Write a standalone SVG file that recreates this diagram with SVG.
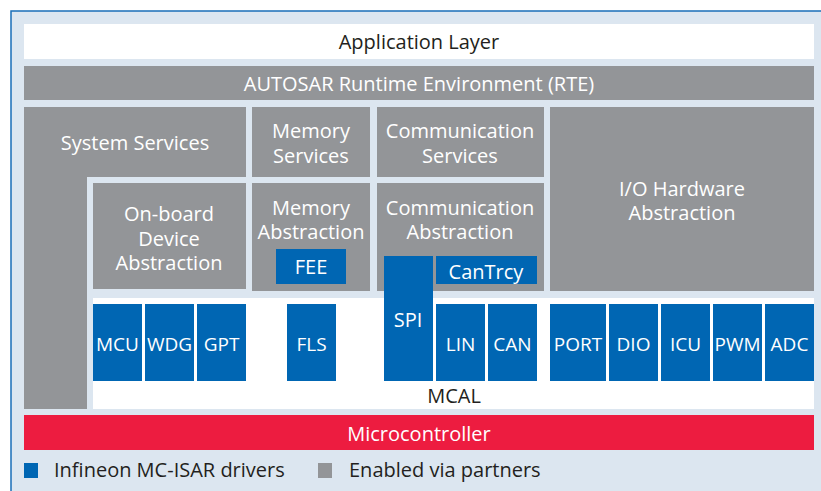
<svg xmlns="http://www.w3.org/2000/svg" width="821" height="491" viewBox="0 0 821 491">
<style>
.g{fill:#939598}
.b{fill:#0066b3}
.t{font-family:"Open Sans","Noto Sans",sans-serif;font-size:20px;text-anchor:middle}
.w{fill:#ffffff}
.d{fill:#231f20}
.s{font-size:19px}
.l{font-family:"Open Sans","Noto Sans",sans-serif;font-size:20px;fill:#231f20}
</style>
<rect x="11" y="11" width="830" height="500" fill="#dce6f0" stroke="#1a6fb8" stroke-width="1.5"/>
<g id="app"><rect x="24" y="24" width="790" height="35" fill="#ffffff"/><text class="t d" x="419" y="49">Application Layer</text></g>
<g id="rte"><rect class="g" x="24" y="66" width="790" height="34"/><text class="t w" x="419" y="91">AUTOSAR Runtime Environment (RTE)</text></g>
<g id="sys"><path class="g" d="M24,107H246V177H87V409H24Z"/><text class="t w" x="135" y="150">System Services</text></g>
<g id="memsrv"><rect class="g" x="252" y="107" width="118" height="70"/><text class="t w" x="311" y="138">Memory</text><text class="t w" x="311" y="163">Services</text></g>
<g id="comsrv"><rect class="g" x="377" y="107" width="167" height="70"/><text class="t w" x="460" y="138">Communication</text><text class="t w" x="460" y="163">Services</text></g>
<g id="io"><rect class="g" x="550" y="107" width="264" height="184"/><text class="t w" x="682" y="196">I/O Hardware</text><text class="t w" x="682" y="220">Abstraction</text></g>
<g id="onboard"><rect class="g" x="93" y="183" width="153" height="106"/><text class="t w" x="169" y="221">On-board</text><text class="t w" x="169" y="246">Device</text><text class="t w" x="169" y="270">Abstraction</text></g>
<g id="memabs"><rect class="g" x="252" y="183" width="118" height="108"/><text class="t w" x="311" y="215">Memory</text><text class="t w" x="311" y="239">Abstraction</text></g>
<g id="comabs"><rect class="g" x="377" y="183" width="167" height="108"/><text class="t w" x="460" y="215">Communication</text><text class="t w" x="460" y="239">Abstraction</text></g>
<g id="mcal"><rect x="93" y="298" width="721" height="111" fill="#ffffff"/><text class="t d" x="454" y="403">MCAL</text></g>
<g id="fee"><rect class="b" x="276" y="249" width="70" height="35"/><text class="t w" x="311" y="274">FEE</text></g>
<g id="cantrcy"><rect class="b" x="436" y="256" width="101" height="28"/><text class="t w" x="486" y="279">CanTrcy</text></g>
<g id="spi"><rect class="b" x="384" y="256" width="49" height="125"/><text class="t w" x="408" y="327">SPI</text></g>
<g id="mcu"><rect class="b" x="93" y="304" width="49" height="77"/><text class="t s w" x="117.5" y="351">MCU</text></g>
<g id="wdg"><rect class="b" x="145" y="304" width="49" height="77"/><text class="t s w" x="169.5" y="351">WDG</text></g>
<g id="gpt"><rect class="b" x="197" y="304" width="49" height="77"/><text class="t s w" x="221.5" y="351">GPT</text></g>
<g id="fls"><rect class="b" x="287" y="304" width="49" height="77"/><text class="t s w" x="311.5" y="351">FLS</text></g>
<g id="lin"><rect class="b" x="436" y="304" width="49" height="77"/><text class="t s w" x="460.5" y="351">LIN</text></g>
<g id="can"><rect class="b" x="488" y="304" width="49" height="77"/><text class="t s w" x="512.5" y="351">CAN</text></g>
<g id="port"><rect class="b" x="550" y="304" width="56" height="77"/><text class="t s w" x="578" y="351">PORT</text></g>
<g id="dio"><rect class="b" x="609" y="304" width="49" height="77"/><text class="t s w" x="633.5" y="351">DIO</text></g>
<g id="icu"><rect class="b" x="661" y="304" width="49" height="77"/><text class="t s w" x="685.5" y="351">ICU</text></g>
<g id="pwm"><rect class="b" x="713" y="304" width="49" height="77"/><text class="t s w" x="737.5" y="351" textLength="46" lengthAdjust="spacingAndGlyphs">PWM</text></g>
<g id="adc"><rect class="b" x="765" y="304" width="49" height="77"/><text class="t s w" x="789.5" y="351">ADC</text></g>
<g id="micro"><rect x="24" y="415" width="790" height="35" fill="#ed1c40"/><text class="t w" x="419" y="441">Microcontroller</text></g>
<g id="legend"><rect class="b" x="24" y="463" width="14" height="15"/><text class="l" x="54" y="477">Infineon MC-ISAR drivers</text><rect class="g" x="318" y="463" width="14" height="15"/><text class="l" x="349" y="477">Enabled via partners</text></g>
</svg>
